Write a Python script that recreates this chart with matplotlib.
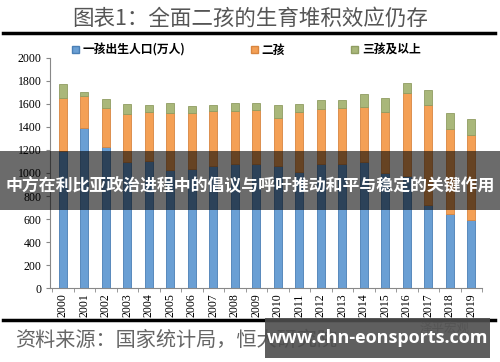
import matplotlib
matplotlib.use('Agg')
from matplotlib import pyplot as plt
from matplotlib.patches import Rectangle, Patch
from matplotlib.lines import Line2D
import numpy as np

plt.rcParams['font.family'] = ['Noto Sans CJK SC', 'DejaVu Sans']

years = [str(y) for y in range(2000, 2020)]
# values (万人)
first_child = [1195, 1391, 1228, 1094, 1102, 1022, 1036, 1065, 1079, 1079,
               1065, 1007, 1079, 1079, 1094, 1000, 973, 719, 641, 595]
upto_second = [1656, 1672, 1561, 1512, 1532, 1518, 1518, 1535, 1535, 1547,
               1478, 1527, 1556, 1561, 1570, 1532, 1694, 1593, 1383, 1333]
totals = [1771, 1700, 1642, 1599, 1593, 1613, 1584, 1593, 1608, 1613,
          1587, 1604, 1634, 1636, 1686, 1654, 1781, 1723, 1524, 1466]

second_child = [b - a for a, b in zip(first_child, upto_second)]
third_plus = [t - b for b, t in zip(upto_second, totals)]

c_blue = '#6a9fd4'
c_orange = '#f4a055'
c_green = '#a9b77a'

fig = plt.figure(figsize=(5, 3.62), dpi=100)
fig.patch.set_facecolor('white')
ax = fig.add_axes([0.1, 0.2044, 0.864, 0.6354])

x = np.arange(len(years))
w = 0.37
ax.bar(x, first_child, w, color=c_blue, edgecolor='#4a7fb5', linewidth=0.6)
ax.bar(x, second_child, w, bottom=first_child, color=c_orange, edgecolor='#d88640', linewidth=0.6)
ax.bar(x, third_plus, w, bottom=upto_second, color=c_green, edgecolor='#8f9d62', linewidth=0.6)

ax.set_xlim(-0.6, 19.5)
ax.set_ylim(0, 2000)
ax.set_yticks(range(0, 2001, 200))
ax.set_xticks(x)
ax.set_xticklabels(years, rotation=90, family='Liberation Serif', fontsize=8.5)
ax.set_xticks(np.arange(-0.5, 20, 1), minor=True)
ax.tick_params(axis='x', which='major', length=0, pad=4)
ax.tick_params(axis='x', which='minor', length=3, color='#888888')
ax.tick_params(axis='y', length=3, color='#888888', labelsize=8.5, pad=3)
for lab in ax.get_yticklabels():
    lab.set_family('Liberation Serif')
for s in ['top', 'right']:
    ax.spines[s].set_visible(False)
ax.spines['left'].set_color('#888888')
ax.spines['bottom'].set_color('#888888')

# title and rules
fig.text(0.5, 0.948, '图表1：全面二孩的生育堆积效应仍存', ha='center', va='center',
         fontsize=15.5, color='#555555')
fig.add_artist(Line2D([0.006, 0.99], [0.909, 0.909], color='black', lw=2.5))
fig.add_artist(Line2D([0.006, 0.99], [0.116, 0.116], color='black', lw=2.5))

# legend
handles = [Patch(facecolor=c_blue, edgecolor='#4a7fb5'),
           Patch(facecolor=c_orange, edgecolor='#d88640'),
           Patch(facecolor=c_green, edgecolor='#8f9d62')]
labels = ['一孩出生人口(万人)', '二孩', '三孩及以上']
leg = fig.legend(handles, labels, ncol=3, loc='center left', bbox_to_anchor=(0.122, 0.862),
                 frameon=False, handlelength=0.6, handleheight=0.6, handletextpad=0.3,
                 columnspacing=5.6, prop={'size': 8.5, 'weight': 'bold'})

# source
fig.text(0.03, 0.06, '资料来源：国家统计局，恒大研究院', ha='left', va='center',
         fontsize=14.5, color='#666666', style='italic')
fig.text(0.94, 0.092, '泽平宏观', ha='right', va='center', fontsize=9, color='#999999')

# overlay banner
fig.add_artist(Rectangle((0, 0.42), 1, 0.163, transform=fig.transFigure,
                         facecolor='black', alpha=0.58, edgecolor='none', zorder=10))
fig.text(0.5, 0.489, '中方在利比亚政治进程中的倡议与呼吁推动和平与稳定的关键作用',
         ha='center', va='center', fontsize=12.2, color='white', weight='bold', zorder=11)

# watermark box
fig.add_artist(Rectangle((0.53, 0.011), 0.45, 0.11, transform=fig.transFigure,
                         facecolor='#4d4d4d', alpha=0.9, edgecolor='none', zorder=10))
fig.text(0.755, 0.066, 'www.chn-eonsports.com', ha='center', va='center',
         fontsize=13, color='white', weight='bold', family='Open Sans', zorder=11)

fig.savefig('out.png', dpi=100)
